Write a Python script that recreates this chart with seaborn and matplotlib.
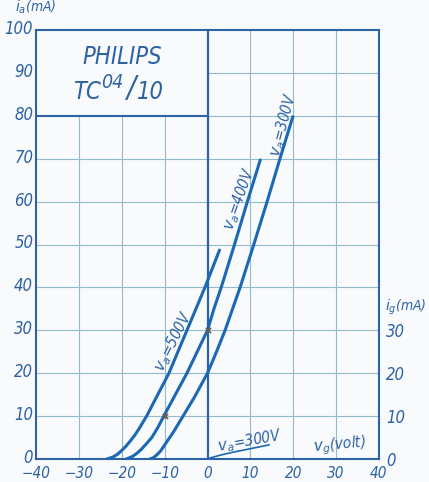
import numpy as np
import pandas as pd
import matplotlib
matplotlib.use('Agg')
import matplotlib.pyplot as plt
import matplotlib.transforms as mtransforms
import seaborn as sns

'''
Anode current curves of the Philips TC 04/10, read off the datasheet.
vg in volt, ia in mA
'''
vg_500 = [-23.5, -22.8, -22, -21, -20, -19, -18, -17, -16, -15.1, -14.2, -11.6, -9, -4.8, -0.6, 2.8]
ia_500 = [0, 0.2, 0.5, 1.1, 2, 3, 4.2, 5.5, 7, 8.5, 10, 15, 20, 30, 40, 48.7]

vg_400 = [-19, -18.3, -17.5, -16.5, -15.5, -14.3, -13, -11.6, -10.2, -7.5, -4.8, -2.4, 0, 1.5, 3.2, 6.3, 9.3, 12.3]
ia_400 = [0, 0.25, 0.6, 1.3, 2.2, 3.5, 5, 7.3, 10, 15, 20, 25, 30, 35, 40, 50, 60, 69.7]

vg_300 = [-13.5, -13, -12.5, -11.8, -11, -10.3, -9.5, -8, -6, -3, 0, 2.1, 4.1, 7.6, 10.8, 13.9, 16.9, 19.9]
ia_300 = [0, 0.15, 0.4, 1, 1.8, 2.8, 4, 6.2, 9.5, 14.5, 20, 25, 30, 40, 50, 60, 70, 79.8]

# grid current at va = 300 V (right hand scale)
vg_grid = [0, 1, 3, 6, 10, 14.4]
ig_grid = [0, 0.35, 0.9, 1.6, 2.4, 3.3]

# the two small pencil marks on the 400 V curve
mark_vg = [-10, 0]
mark_ia = [10, 30]

x_ticks = [-40, -30, -20, -10, 0, 10, 20, 30, 40]
y_ticks = [0, 10, 20, 30, 40, 50, 60, 70, 80, 90, 100]
ig_ticks = [0, 10, 20, 30]

paper = '#f8fafb'
ink = '#2d62a4'
curve = '#1c68b4'
grid = '#93bacd'

sns.set_style('white')
plt.rcParams['font.family'] = ['DejaVu Sans']
plt.rcParams['mathtext.fontset'] = 'dejavusans'

fig = plt.figure(figsize=(4.29, 4.82), dpi=100, facecolor=paper)
ax = fig.add_axes([36/429, 23/482, 343/429, 429/482])
ax.set_facecolor(paper)

# partial grid, the name box in the corner has none
ax.vlines([10, 20, 30], 0, 100, color=grid, lw=0.8, zorder=1)
ax.vlines([-30, -20, -10], 0, 80, color=grid, lw=0.8, zorder=1)
ax.hlines([10, 20, 30, 40, 50, 60, 70], -40, 40, color=grid, lw=0.8, zorder=1)
ax.hlines([80, 90], 0, 40, color=grid, lw=0.8, zorder=1)
ax.vlines([0], 0, 100, color=ink, lw=1.6, zorder=2)
ax.hlines([80], -40, 0, color=ink, lw=1.5, zorder=2)

curves = pd.concat([
    pd.DataFrame({'vg': vg_500, 'i': ia_500, 'va': '500'}),
    pd.DataFrame({'vg': vg_400, 'i': ia_400, 'va': '400'}),
    pd.DataFrame({'vg': vg_300, 'i': ia_300, 'va': '300'}),
    pd.DataFrame({'vg': vg_grid, 'i': ig_grid, 'va': 'grid'}),
])
anode = curves[curves['va'] != 'grid']
sns.lineplot(data=anode, x='vg', y='i', units='va', estimator=None, sort=False,
             color=curve, lw=2.2, ax=ax, zorder=3)
sns.lineplot(data=curves[curves['va'] == 'grid'], x='vg', y='i', estimator=None,
             sort=False, color=curve, lw=1.2, ax=ax, zorder=3)
ax.scatter(mark_vg, mark_ia, marker='x', s=14, color='#6b5a50', lw=1.2, zorder=4)

ax.set_xlim(-40, 40)
ax.set_ylim(0, 100)
ax.set_xlabel('')
ax.set_ylabel('')
ax.set_xticks(x_ticks)
ax.set_xticklabels([str(t).replace('-', '\u2212') for t in x_ticks])
ax.set_yticks(y_ticks)
ax.set_yticklabels([str(t) for t in y_ticks])
ax.tick_params(length=0, labelsize=12, colors=ink)
ax.tick_params(axis='x', pad=5, labelsize=11)
ax.tick_params(axis='y', pad=2)
for s in ax.spines.values():
    s.set_color(ink)
    s.set_linewidth(1.5)

ax2 = ax.twinx()
ax2.set_ylim(0, 100)
ax2.set_yticks(ig_ticks)
ax2.set_yticklabels([str(t) for t in ig_ticks])
ax2.tick_params(length=0, labelsize=12, colors=ink, pad=5)
for s in ax2.spines.values():
    s.set_visible(False)

# the printed left labels sit a touch above their lines
lift = mtransforms.ScaledTranslation(0, 3/100, fig.dpi_scale_trans)
for lab in ax.get_yticklabels():
    lab.set_transform(lab.get_transform() + lift)

for lab in ax.get_xticklabels() + ax.get_yticklabels() + ax2.get_yticklabels():
    lab.set_fontstyle('italic')
    lab.set_fontstretch('condensed')

txt = dict(color=ink, fontstyle='italic', fontstretch='condensed')
ax.text(-7.8, 27.3, r'$v_a$=500V', rotation=63, ha='center', va='center', fontsize=11, **txt)
ax.text(7.5, 60.6, r'$v_a$=400V', rotation=70, ha='center', va='center', fontsize=11, **txt)
ax.text(17.7, 78, r'$v_a$=300V', rotation=75, ha='center', va='center', fontsize=11, **txt)
ax.text(9.8, 4.2, r'$v_a$=300V', rotation=10, ha='center', va='center', fontsize=11, **txt)
ax.text(30.9, 3.2, r'$v_g$(volt)', rotation=5, ha='center', va='center', fontsize=11, **txt)
ax.text(1.079, 0.354, r'$i_g$(mA)', transform=ax.transAxes, ha='center', va='center', fontsize=10, **txt)
ax.text(0.0, 1.053, r'$i_a$(mA)', transform=ax.transAxes, ha='center', va='center', fontsize=10, **txt)

ax.text(-19.9, 93.7, 'PHILIPS', ha='center', va='center', fontsize=17, **txt)
ax.text(-28.2, 85.6, 'TC', ha='center', va='center', fontsize=17, **txt)
ax.text(-22.2, 87.8, '04', ha='center', va='center', fontsize=14, **txt)
ax.text(-18.0, 86.4, '/', ha='center', va='center', fontsize=22, **txt)
ax.text(-13.4, 85.6, '10', ha='center', va='center', fontsize=17, **txt)

fig.savefig('out.png', dpi=100, facecolor=paper)
